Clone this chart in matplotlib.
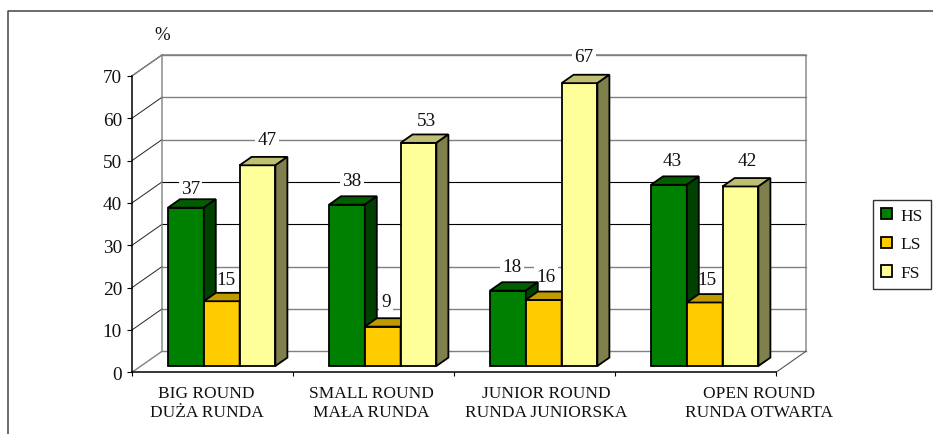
import matplotlib
matplotlib.use("Agg")
import matplotlib.pyplot as plt
from matplotlib.lines import Line2D
from matplotlib.patches import Polygon

plt.rcParams['font.family'] = ['Liberation Serif', 'DejaVu Serif']

categories = ["BIG ROUND\nDUŻA RUNDA", "SMALL ROUND\nMAŁA RUNDA",
              "JUNIOR ROUND\nRUNDA JUNIORSKA", "OPEN ROUND\nRUNDA OTWARTA"]
series_names = ["HS", "LS", "FS"]
hs_values = [37.4, 38.1, 17.8, 42.8]
ls_values = [15.3, 9.3, 15.6, 15.0]
fs_values = [47.4, 52.7, 66.8, 42.4]
y_ticks = [0, 10, 20, 30, 40, 50, 60, 70]

face_colors = ["#008000", "#FFCC00", "#FFFF99"]
top_colors = ["#006000", "#BF9900", "#BFBF73"]
side_colors = ["#004000", "#BF9900", "#80804D"]
grid_colors = ["#808080", "#808080", "#808080", "#000000", "#000000", "#808080", "#808080", "#808080"]
grid_widths = [1.0, 1.0, 1.0, 0.8, 0.8, 1.0, 1.0, 1.0]

# pixel offsets of the value labels from the top centre of each bar's front face
label_offsets = [
    [(4.8, 19.3), (4.3, 21.3), (9.5, 25.7)],
    [(5, 24), (3.3, 25.3), (7.5, 22.3)],
    [(4, 24), (2.3, 23.3), (4.5, 27)],
    [(3.8, 24), (2.3, 23), (7.2, 25.7)],
]
cat_label_dx = [-5.8, -2, 12, 63.5]

W, H = 933, 435
fig = plt.figure(figsize=(W / 100, H / 100), dpi=100, facecolor="white")
ax = fig.add_axes([132 / W, 1 - 373.3 / H, 644 / W, 296.4 / H])
ax.set_xlim(0, 4)
ax.set_ylim(0, 70)
ax.patch.set_visible(False)

PX_X = 4 / 644
PX_Y = 70 / 296.4
DX, DY = 30 * PX_X, 21 * PX_Y   # full chart depth in data units

def depth(x, y, d):
    return (x + d * DX, y + d * DY)

# walls
wall_kw = dict(color="#808080", lw=1.0, clip_on=False, zorder=1.2)
ax.plot(*zip(depth(0, 70, 0), depth(0, 70, 1), depth(4, 70, 1), depth(4, 0, 1)), **wall_kw)
ax.plot(*zip(depth(0, 0, 0), depth(0, 0, 1), depth(0, 70, 1)), **wall_kw)
ax.plot(*zip(depth(4, 0, 0), depth(4, 0, 1)), color="#555555", lw=0.8, clip_on=False, zorder=1.2)
for v, c, lw in zip(y_ticks, grid_colors, grid_widths):
    ax.plot(*zip(depth(0, v, 1), depth(4, v, 1)), color=c, lw=lw, clip_on=False, zorder=1)
    if v > 0:
        ax.plot(*zip(depth(0, v, 0), depth(0, v, 1)), color="#222222", lw=0.7, clip_on=False, zorder=1)

# bars
gap, bw = 27 * PX_X, 35.8 * PX_X
d0, dd = 0.3, 0.4
bar_lw = 1.3
all_values = [hs_values, ls_values, fs_values]
containers = []
for s, vals in enumerate(all_values):
    xs = [i + gap + d0 * DX + s * bw for i in range(len(vals))]
    cont = ax.bar(xs, vals, width=bw, bottom=d0 * DY, align="edge", color=face_colors[s],
                  edgecolor="black", linewidth=bar_lw, zorder=4 + s, clip_on=False,
                  label=series_names[s])
    containers.append(cont)
    for x, v in zip(xs, vals):
        y0, y1 = d0 * DY, d0 * DY + v
        ax.add_patch(Polygon([(x, y1), (x + bw, y1), (x + bw + dd * DX, y1 + dd * DY), (x + dd * DX, y1 + dd * DY)],
                             closed=True, facecolor=top_colors[s], edgecolor="black", lw=bar_lw,
                             clip_on=False, zorder=4 + s))
        ax.add_patch(Polygon([(x + bw, y0), (x + bw + dd * DX, y0 + dd * DY), (x + bw + dd * DX, y1 + dd * DY), (x + bw, y1)],
                             closed=True, facecolor=side_colors[s], edgecolor="black", lw=bar_lw,
                             clip_on=False, zorder=4 + s))

# value labels
for s, vals in enumerate(all_values):
    for i, v in enumerate(vals):
        x = i + gap + d0 * DX + (s + 0.5) * bw
        ax.annotate(f"{v:.0f}", xy=(x, d0 * DY + v), xycoords="data", textcoords="offset pixels",
                    xytext=label_offsets[i][s], ha="center", va="center", fontsize=13.9, color="#111111",
                    bbox=dict(facecolor="white", edgecolor="none", pad=1.5), zorder=2, annotation_clip=False)

# axes
for name in ("top", "right"):
    ax.spines[name].set_visible(False)
for name in ("left", "bottom"):
    ax.spines[name].set_linewidth(1.1)
    ax.spines[name].set_zorder(3)
ax.set_yticks(y_ticks)
ax.set_xticks(range(5))
ax.set_xticklabels([])
ax.tick_params(axis="y", length=3.6, width=0.8, pad=3.6, labelsize=13.9, labelcolor="#111111")
ax.tick_params(axis="x", length=3.2, width=0.8)

for i, (lab, dx) in enumerate(zip(categories, cat_label_dx)):
    ax.annotate(lab, xy=(i + 0.5, 0), xycoords="data", textcoords="offset pixels", xytext=(dx, -30),
                ha="center", va="center", multialignment="center", fontsize=12.5, linespacing=1.22,
                color="#111111", annotation_clip=False)

fig.text(162.5 / W, 1 - 35 / H, "%", ha="center", va="center", fontsize=13.5, color="#111111")

# outer frame
fig.add_artist(Line2D([8.3 / W, 8.3 / W, 1], [0, 1 - 11.7 / H, 1 - 11.7 / H],
                      transform=fig.transFigure, color="#444444", lw=1.1))

# legend
leg = fig.legend(handles=containers, labels=series_names, loc="upper left",
                 bbox_to_anchor=(873.3 / W, 1 - 201 / H), borderaxespad=0, fontsize=12.6,
                 fancybox=False, framealpha=1, edgecolor="#333333", handlelength=0.62, handleheight=0.62,
                 handletextpad=0.5, labelspacing=0.73, borderpad=0.44, labelcolor="#111111")
leg.get_frame().set_linewidth(1.0)

fig.savefig("out.png", dpi=100)
